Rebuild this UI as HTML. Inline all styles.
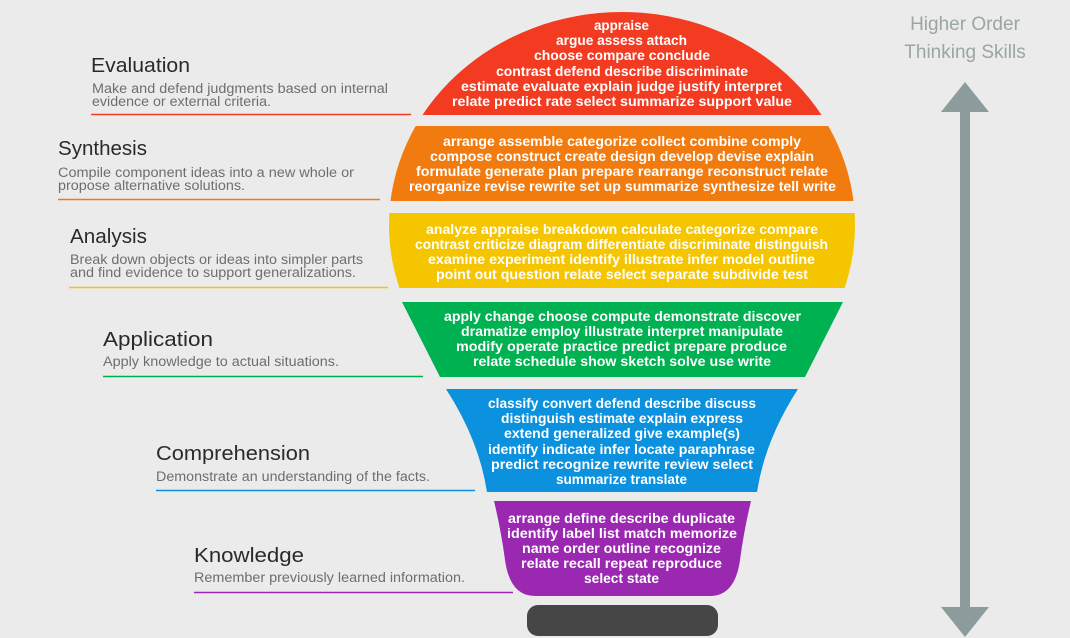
<!DOCTYPE html>
<html><head><meta charset="utf-8"><style>
html,body{margin:0;padding:0;background:#ebebeb;}
svg{display:block;}
.t{font-family:"Liberation Sans",sans-serif;font-size:20.5px;fill:#2a2a2a;}
.d{font-family:"Liberation Sans",sans-serif;font-size:13.5px;fill:#6e6e6e;}
.w{font-family:"Liberation Sans",sans-serif;font-size:13.5px;font-weight:bold;fill:#fff;}
.h{font-family:"Liberation Sans",sans-serif;font-size:19px;fill:#9aa5a5;}
</style></head><body>
<svg width="1070" height="638" viewBox="0 0 1070 638" xmlns="http://www.w3.org/2000/svg">
<rect width="1070" height="638" fill="#ebebeb"/>
<defs><clipPath id="c"><ellipse cx="622" cy="225" rx="233" ry="213"/></clipPath></defs>
<g clip-path="url(#c)">
<rect x="380" y="0" width="500" height="115" fill="#f33b22"/>
<rect x="380" y="126" width="500" height="75" fill="#f17b0f"/>
<rect x="380" y="213" width="500" height="75" fill="#f5c500"/>
</g>
<polygon points="402,302 843,302 805,377 440,377" fill="#00b151"/>
<path d="M446,389 L798,389 Q765,440 757,492 L487,492 Q479,440 446,389 Z" fill="#0b91dd"/>
<path d="M494,501 L751,501 Q744,530 740,560 Q735,596 710,596 L535,596 Q510,596 505,560 Q501,530 494,501 Z" fill="#9b28b0"/>
<rect x="527" y="605" width="191" height="31" rx="11" fill="#464646"/>

<g class="w">
<text x="594" y="30" textLength="55" lengthAdjust="spacingAndGlyphs">appraise</text>
<text x="556" y="45" textLength="131" lengthAdjust="spacingAndGlyphs">argue  assess  attach</text>
<text x="534" y="60" textLength="176" lengthAdjust="spacingAndGlyphs">choose  compare  conclude</text>
<text x="496" y="76" textLength="252" lengthAdjust="spacingAndGlyphs">contrast  defend  describe  discriminate</text>
<text x="461" y="91" textLength="321" lengthAdjust="spacingAndGlyphs">estimate  evaluate  explain  judge  justify  interpret</text>
<text x="452" y="106" textLength="340" lengthAdjust="spacingAndGlyphs">relate  predict  rate  select  summarize  support  value</text>

<text x="443" y="146" textLength="358" lengthAdjust="spacingAndGlyphs">arrange  assemble  categorize  collect  combine  comply</text>
<text x="430" y="161" textLength="384" lengthAdjust="spacingAndGlyphs">compose  construct  create  design  develop  devise  explain</text>
<text x="416" y="176" textLength="412" lengthAdjust="spacingAndGlyphs">formulate  generate  plan  prepare  rearrange  reconstruct  relate</text>
<text x="409" y="191" textLength="427" lengthAdjust="spacingAndGlyphs">reorganize  revise  rewrite  set up  summarize  synthesize  tell  write</text>

<text x="426" y="234" textLength="392" lengthAdjust="spacingAndGlyphs">analyze  appraise  breakdown  calculate  categorize  compare</text>
<text x="415" y="249" textLength="413" lengthAdjust="spacingAndGlyphs">contrast  criticize  diagram  differentiate  discriminate  distinguish</text>
<text x="428" y="264" textLength="387" lengthAdjust="spacingAndGlyphs">examine  experiment  identify  illustrate  infer  model  outline</text>
<text x="436" y="279" textLength="372" lengthAdjust="spacingAndGlyphs">point out  question  relate  select  separate  subdivide  test</text>

<text x="444" y="321" textLength="357" lengthAdjust="spacingAndGlyphs">apply  change  choose  compute  demonstrate  discover</text>
<text x="461" y="336" textLength="322" lengthAdjust="spacingAndGlyphs">dramatize  employ  illustrate  interpret  manipulate</text>
<text x="456" y="351" textLength="331" lengthAdjust="spacingAndGlyphs">modify  operate  practice  predict  prepare  produce</text>
<text x="473" y="366" textLength="298" lengthAdjust="spacingAndGlyphs">relate  schedule  show  sketch  solve  use  write</text>

<text x="488" y="408" textLength="268" lengthAdjust="spacingAndGlyphs">classify  convert  defend  describe  discuss</text>
<text x="501" y="423" textLength="242" lengthAdjust="spacingAndGlyphs">distinguish  estimate  explain  express</text>
<text x="504" y="438" textLength="236" lengthAdjust="spacingAndGlyphs">extend  generalized  give example(s)</text>
<text x="488" y="454" textLength="267" lengthAdjust="spacingAndGlyphs">identify  indicate  infer  locate  paraphrase</text>
<text x="491" y="469" textLength="262" lengthAdjust="spacingAndGlyphs">predict  recognize  rewrite  review  select</text>
<text x="556" y="484" textLength="131" lengthAdjust="spacingAndGlyphs">summarize  translate</text>

<text x="508" y="523" textLength="227" lengthAdjust="spacingAndGlyphs">arrange  define  describe  duplicate</text>
<text x="507" y="538" textLength="230" lengthAdjust="spacingAndGlyphs">identify  label  list  match  memorize</text>
<text x="522" y="553" textLength="199" lengthAdjust="spacingAndGlyphs">name  order  outline  recognize</text>
<text x="521" y="568" textLength="201" lengthAdjust="spacingAndGlyphs">relate  recall  repeat  reproduce</text>
<text x="584" y="583" textLength="75" lengthAdjust="spacingAndGlyphs">select  state</text>
</g>

<text class="t" x="91" y="72" textLength="99" lengthAdjust="spacingAndGlyphs">Evaluation</text>
<text class="d" x="92" y="93" textLength="296" lengthAdjust="spacingAndGlyphs">Make and defend judgments based on internal</text>
<text class="d" x="92" y="106" textLength="179" lengthAdjust="spacingAndGlyphs">evidence or external criteria.</text>
<line x1="91" y1="114.5" x2="411" y2="114.5" stroke="#f33b22" stroke-width="1.5"/>

<text class="t" x="58" y="155" textLength="89" lengthAdjust="spacingAndGlyphs">Synthesis</text>
<text class="d" x="58" y="177" textLength="296" lengthAdjust="spacingAndGlyphs">Compile component ideas into a new whole or</text>
<text class="d" x="58" y="190" textLength="187" lengthAdjust="spacingAndGlyphs">propose alternative solutions.</text>
<line x1="58" y1="199.5" x2="380" y2="199.5" stroke="#f17b0f" stroke-width="1.5"/>

<text class="t" x="70" y="243" textLength="77" lengthAdjust="spacingAndGlyphs">Analysis</text>
<text class="d" x="70" y="264" textLength="293" lengthAdjust="spacingAndGlyphs">Break down objects or ideas into simpler parts</text>
<text class="d" x="70" y="277" textLength="286" lengthAdjust="spacingAndGlyphs">and find evidence to support generalizations.</text>
<line x1="69" y1="287.5" x2="388" y2="287.5" stroke="#f5c500" stroke-width="1.5"/>

<text class="t" x="103" y="346" textLength="110" lengthAdjust="spacingAndGlyphs">Application</text>
<text class="d" x="103" y="366" textLength="236" lengthAdjust="spacingAndGlyphs">Apply knowledge to actual situations.</text>
<line x1="103" y1="376.5" x2="423" y2="376.5" stroke="#00b151" stroke-width="1.5"/>

<text class="t" x="156" y="460" textLength="154" lengthAdjust="spacingAndGlyphs">Comprehension</text>
<text class="d" x="156" y="481" textLength="274" lengthAdjust="spacingAndGlyphs">Demonstrate an understanding of the facts.</text>
<line x1="156" y1="490.5" x2="475" y2="490.5" stroke="#0b91dd" stroke-width="1.5"/>

<text class="t" x="194" y="562" textLength="110" lengthAdjust="spacingAndGlyphs">Knowledge</text>
<text class="d" x="194" y="582" textLength="271" lengthAdjust="spacingAndGlyphs">Remember previously learned information.</text>
<line x1="194" y1="592.5" x2="513" y2="592.5" stroke="#9b28b0" stroke-width="1.5"/>

<text class="h" x="965" y="30" text-anchor="middle">Higher Order</text>
<text class="h" x="965" y="58" text-anchor="middle">Thinking Skills</text>
<rect x="960" y="105" width="10" height="508" fill="#8c9c9c"/>
<polygon points="965,82 989,112 941,112" fill="#8c9c9c"/>
<polygon points="965,637 989,607 941,607" fill="#8c9c9c"/>
</svg>
</body></html>
